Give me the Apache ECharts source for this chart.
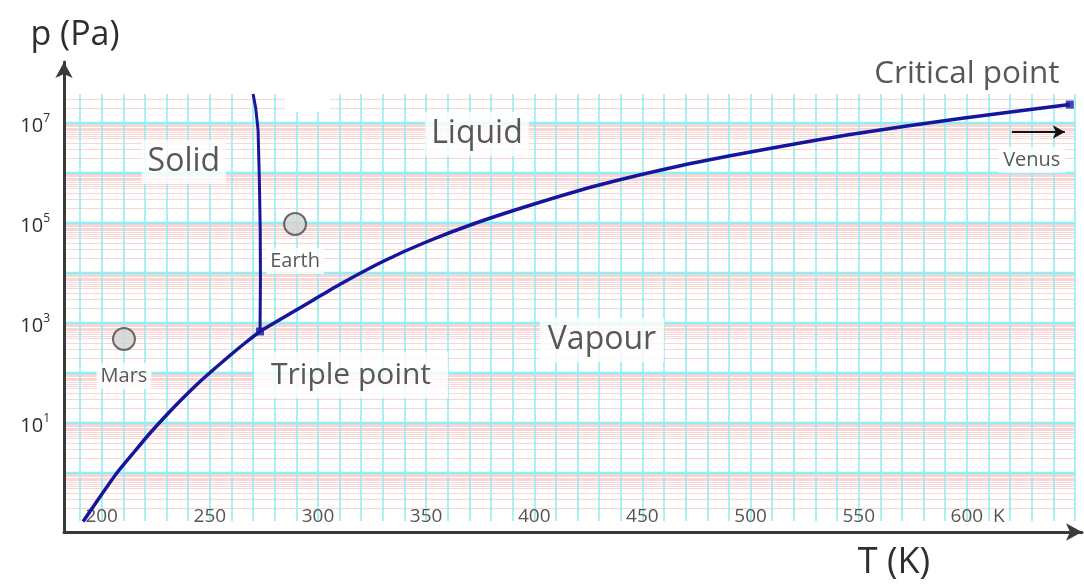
<!DOCTYPE html>
<html><head><meta charset="utf-8">
<script src="https://cdn.jsdelivr.net/npm/echarts@6/dist/echarts.min.js"></script>
<style>html,body{margin:0;padding:0;background:#fff}#c{width:1084px;height:585px}</style>
</head><body><div id="c"></div>
<script>
// Sublimation + vaporisation boundary (T in K, p in Pa)
const curveT = [191.4, 199, 207, 215, 222.4, 230, 237.6, 245, 252, 259, 266, 273.2, 280.9, 288.4, 296.3, 310, 330, 350, 373, 400, 430, 467, 500, 546, 597, 647.6];
const curveP = [0.107, 0.324, 1.0, 2.63, 6.31, 14.5, 31.6, 64.6, 120, 219, 389, 676, 1070, 1660, 2630, 5890, 17000, 41700, 100000, 240000, 575000, 1380000, 2630000, 5890000, 12300000, 23400000];
// Melting line
const meltT = [273.2, 273.4, 273.3, 272.9, 272.3, 271.2, 270.0];
const meltP = [676, 7240, 72400, 724000, 7240000, 20000000, 38000000];
// Special points
const pointNames = ['Triple point', 'Critical point'];
const pointT = [273.2, 647.6];
const pointP = [676, 23400000];
// Planets (surface conditions)
const planetNames = ['Mars', 'Earth'];
const planetT = [210.3, 289.4];
const planetP = [479, 95500];
// Text annotations (anchored in data units)
const annoNames = ['Solid', 'Liquid', 'Vapour', 'Triple point', 'Critical point', 'Venus'];
const annoT = [238.0, 373.5, 431.3, 315.3, 600.0, 630.0];
const annoP = [1.66e6, 6.03e6, 457, 91.2, 9.55e7, 1.82e6];
// Venus arrow (points off the chart to the right)
const venusArrowT = [620.8, 645.3];
const venusArrowP = 6.6e6;
// Axis tick labels
const xTickLabels = [200, 250, 300, 350, 400, 450, 500, 550, 600];
const yTickExponents = [1, 3, 5, 7];
// Log-paper minor rulings inside each decade
const minorMultipliers = [2, 3, 4, 5, 5.5, 6, 6.5, 7, 7.5, 8, 8.5, 9, 9.5];
const decades = [-1, 0, 1, 2, 3, 4, 5, 6, 7];

const FONT = 'Open Sans';
const NAVY = '#16169c';
const TXT = '#2e2e2e';
const lg = v => Math.log10(v);
const Y_MIN = -0.96, Y_MAX = 7.58;

const minorLines = [];
decades.forEach(d => minorMultipliers.forEach(m => {
  const v = lg(m) + d;
  if (v > Y_MIN && v < Y_MAX) minorLines.push({ yAxis: v });
}));

const annoStyle = {
  'Solid': { fontSize: 32, bg: true, pad: [6, 6] },
  'Liquid': { fontSize: 32, bg: true, pad: [6, 6] },
  'Vapour': { fontSize: 32, bg: true, pad: [6, 8] },
  'Triple point': { fontSize: 30, bg: true, pad: [8, 17] },
  'Critical point': { fontSize: 31.5, bg: false, pad: [0, 0] },
  'Venus': { fontSize: 20, bg: true, pad: [3, 5] }
};

const chart = echarts.init(document.getElementById('c'), null, { renderer: 'canvas' });
chart.setOption({
  animation: false,
  backgroundColor: '#fff',
  textStyle: { fontFamily: FONT },
  grid: [
    { left: 66, right: 9, top: 94, bottom: 64 },
    { left: 64, right: 2, top: 62, bottom: 53 }
  ],
  xAxis: [{
    type: 'value', gridIndex: 0, min: 183.5, max: 650, splitNumber: 47,
    axisLine: { show: false }, axisTick: { show: false },
    splitLine: { show: true, showMinLine: false, lineStyle: { color: '#93eef3', width: 1.6 } },
    axisLabel: {
      inside: true, margin: -5, showMinLabel: false, showMaxLabel: false,
      fontSize: 19, color: '#555', fontFamily: FONT,
      formatter: v => {
        if (!xTickLabels.includes(v)) return '';
        if (v === 600) return '{h|K  }600  K';
        return String(v);
      },
      rich: { h: { color: 'rgba(0,0,0,0)', fontSize: 19, fontFamily: FONT } }
    }
  }, {
    type: 'value', gridIndex: 1, min: 0, max: 1,
    axisLine: { show: true, symbol: ['none', 'arrow'], symbolSize: [13, 16], lineStyle: { color: '#3a3a3a', width: 3 } },
    axisTick: { show: false }, axisLabel: { show: false }, splitLine: { show: false }
  }],
  yAxis: [{
    type: 'value', gridIndex: 0, min: Y_MIN, max: Y_MAX, splitNumber: 8,
    axisLine: { show: false }, axisTick: { show: false },
    splitLine: { show: true, showMinLine: false, showMaxLine: false, lineStyle: { color: '#93eef3', width: 2.4 } },
    axisLabel: {
      margin: 16, showMinLabel: false, showMaxLabel: false, padding: [6, 0, 0, 0],
      formatter: v => {
        const e = Math.round(v);
        if (Math.abs(v - e) > 1e-6 || !yTickExponents.includes(e)) return '';
        return '{b|10}{s|' + e + '}';
      },
      rich: {
        b: { fontSize: 20, lineHeight: 26, color: TXT, fontFamily: FONT },
        s: { fontSize: 12, lineHeight: 10, verticalAlign: 'top', color: TXT, fontFamily: FONT }
      }
    }
  }, {
    type: 'value', gridIndex: 1, min: 0, max: 1,
    axisLine: { show: true, symbol: ['none', 'arrow'], symbolSize: [13, 16], lineStyle: { color: '#3a3a3a', width: 3 } },
    axisTick: { show: false }, axisLabel: { show: false }, splitLine: { show: false },
    name: 'p (Pa)', nameLocation: 'end', nameGap: 27,
    nameTextStyle: { fontSize: 34, color: TXT, fontFamily: FONT, align: 'center', verticalAlign: 'middle', padding: [0, 0, 0, 22] }
  }],
  graphic: [{
    type: 'rect', shape: { x: 285, y: 94, width: 45, height: 18 }, style: { fill: '#fff' }, z: 1, silent: true
  }, {
    type: 'text', x: 894, y: 563, silent: true, z: 10,
    style: { text: 'T (K)', fill: TXT, font: '36px "Open Sans"', align: 'center', verticalAlign: 'middle' }
  }],
  series: [
    {
      name: 'minor', type: 'line', xAxisIndex: 0, yAxisIndex: 0, data: [], z: -1, silent: true,
      markLine: {
        z: -1, silent: true, symbol: ['none', 'none'], label: { show: false },
        lineStyle: { color: '#fbd4d4', width: 1, type: 'solid' },
        emphasis: { disabled: true }, data: minorLines
      }
    },
    {
      name: 'vaporisation', type: 'line', xAxisIndex: 0, yAxisIndex: 0, showSymbol: false, smooth: 0.2, z: 4,
      lineStyle: { color: NAVY, width: 3.5 }, silent: true,
      data: curveT.map((t, i) => [t, lg(curveP[i])])
    },
    {
      name: 'melting', type: 'line', xAxisIndex: 0, yAxisIndex: 0, showSymbol: false, z: 4,
      lineStyle: { color: NAVY, width: 3 }, silent: true,
      data: meltT.map((t, i) => [t, lg(meltP[i])])
    },
    {
      name: 'points', type: 'scatter', xAxisIndex: 0, yAxisIndex: 0, symbol: 'rect', symbolSize: 8, z: 5,
      itemStyle: { color: NAVY }, silent: true, clip: false,
      data: pointT.map((t, i) => ({ name: pointNames[i], value: [t, lg(pointP[i])] }))
    },
    {
      name: 'planets', type: 'scatter', xAxisIndex: 0, yAxisIndex: 0, symbol: 'circle', symbolSize: 22, z: 5,
      itemStyle: { color: '#d3d3d3', borderColor: '#4a4a4a', borderWidth: 2 }, silent: true,
      label: {
        show: true, position: 'bottom', distance: 12, formatter: p => p.name,
        fontSize: 20, color: TXT, fontFamily: FONT, backgroundColor: '#fff', padding: [3, 4]
      },
      data: planetT.map((t, i) => ({ name: planetNames[i], value: [t, lg(planetP[i])] }))
    },
    {
      name: 'annotations', type: 'scatter', xAxisIndex: 0, yAxisIndex: 0, symbolSize: 0, z: 6, clip: false, silent: true,
      data: annoT.map((t, i) => {
        const s = annoStyle[annoNames[i]];
        return {
          name: annoNames[i], value: [t, lg(annoP[i])],
          label: {
            show: true, position: 'inside', formatter: annoNames[i],
            fontSize: s.fontSize, color: TXT, fontFamily: FONT,
            backgroundColor: s.bg ? '#fff' : 'transparent', padding: s.pad
          }
        };
      }),
      markLine: {
        silent: true, symbol: ['none', 'arrow'], symbolSize: [10, 12], label: { show: false },
        lineStyle: { color: '#111', width: 2, type: 'solid' },
        data: [[{ coord: [venusArrowT[0], lg(venusArrowP)] }, { coord: [venusArrowT[1], lg(venusArrowP)] }]]
      }
    }
  ]
});
</script>
</body></html>
